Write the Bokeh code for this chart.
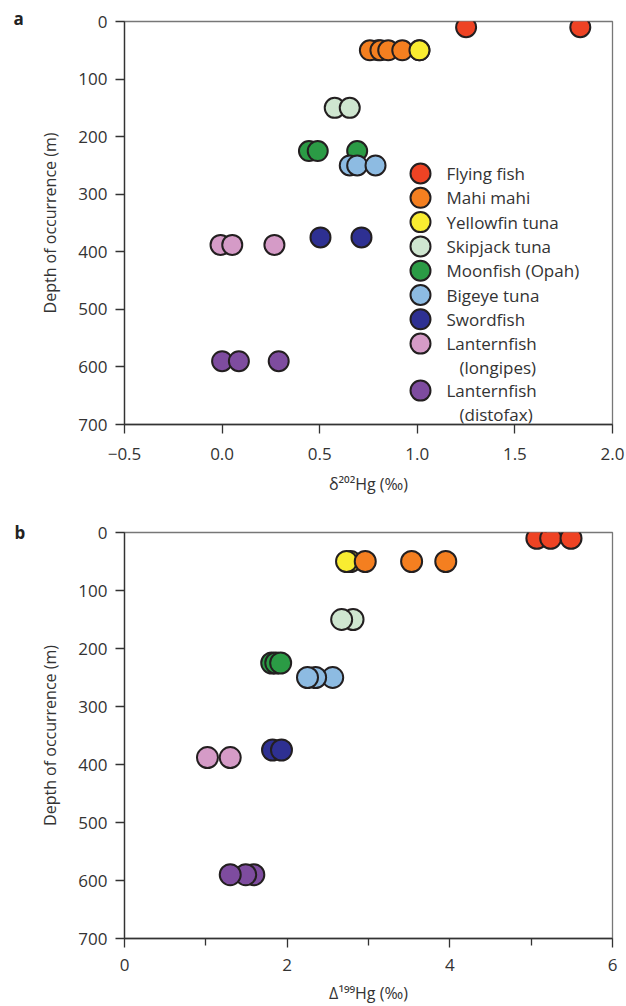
from bokeh.plotting import figure
from bokeh.layouts import column
from bokeh.models import Range1d, FixedTicker, CustomJSTickFormatter
from bokeh.core.properties import value
from bokeh.embed import file_html
from bokeh.resources import INLINE

# ---------------- data ----------------
species = ["Flying fish", "Mahi mahi", "Yellowfin tuna", "Skipjack tuna",
           "Moonfish (Opah)", "Bigeye tuna", "Swordfish",
           "Lanternfish\n(longipes)", "Lanternfish\n(distofax)"]
colors = ["#EE4324", "#F47F20", "#F9EC31", "#CFE6D0", "#2B9B45",
          "#8DBBE2", "#2E3092", "#D59BC7", "#7E4C9F"]
depths = [10, 50, 50, 150, 225, 250, 375, 388, 590]

# panel a: delta 202Hg (per mil)
flying_a = [1.25, 1.835]
mahi_a = [0.757, 0.811, 0.851, 0.923]
yellowfin_a = [0.80, 1.011]
skipjack_a = [0.577, 0.654]
moonfish_a = [0.445, 0.49, 0.692]
bigeye_a = [0.654, 0.692, 0.786]
swordfish_a = [0.504, 0.714]
longipes_a = [-0.008, 0.052, 0.268]
distofax_a = [0.0, 0.086, 0.29]

# panel b: Delta 199Hg (per mil)
flying_b = [5.07, 5.24, 5.49]
mahi_b = [2.96, 3.53, 3.95]
yellowfin_b = [2.78, 2.73]
skipjack_b = [2.81, 2.67]
moonfish_b = [1.81, 1.86, 1.92]
bigeye_b = [2.56, 2.35, 2.25]
swordfish_b = [1.82, 1.93]
longipes_b = [1.02, 1.30]
distofax_b = [1.59, 1.49, 1.30]

series_a = [flying_a, mahi_a, yellowfin_a, skipjack_a, moonfish_a,
            bigeye_a, swordfish_a, longipes_a, distofax_a]
series_b = [flying_b, mahi_b, yellowfin_b, skipjack_b, moonfish_b,
            bigeye_b, swordfish_b, longipes_b, distofax_b]

xticks_a = [-0.5, 0.0, 0.5, 1.0, 1.5, 2.0]
xticks_b = [0, 2, 4, 6]
xminor_b = [1, 3, 5]
yticks = [0, 100, 200, 300, 400, 500, 600, 700]

FONT = "Open Sans"
TXT = "#333333"
EDGE = "#231F20"
MSIZE = 20

# frame geometry of panel a (pixels), used to place the legend
A_LEFT, A_TOP, A_W, A_H = 124, 21, 488, 403
AX0, AX1, AY0, AY1 = -0.5, 2.0, 0, 700


def ax_x(px):
    return AX0 + (px - A_LEFT) * (AX1 - AX0) / A_W


def ax_y(py):
    return AY0 + (py - A_TOP) * (AY1 - AY0) / A_H


def style(p, xlabel, panel_letter, left):
    for ax in (p.xaxis, p.yaxis):
        ax.axis_line_color = "#333333"
        ax.axis_line_width = 1.3
        ax.major_tick_line_color = "#333333"
        ax.major_tick_line_width = 1.3
        ax.major_tick_out = 9
        ax.major_tick_in = 0
        ax.major_label_text_font = FONT
        ax.major_label_text_font_size = "17px"
        ax.major_label_text_color = TXT
        ax.axis_label_text_font = FONT
        ax.axis_label_text_font_size = "16px"
        ax.axis_label_text_color = TXT
        ax.axis_label_text_font_style = "normal"
    p.yaxis.axis_label = "Depth of occurrence (m)"
    p.yaxis.ticker = FixedTicker(ticks=yticks)
    p.yaxis.minor_tick_line_color = None
    p.yaxis.major_label_standoff = 8
    p.yaxis.axis_label_standoff = 14
    p.xaxis.axis_label = xlabel
    p.grid.visible = False
    p.outline_line_color = "#777777"
    p.outline_line_width = 1.3
    p.background_fill_color = "white"
    p.border_fill_color = "white"
    # panel letter
    p.title.text = panel_letter
    p.title.align = "left"
    p.title.offset = 13 - left
    p.title.text_font = FONT
    p.title.text_font_style = "bold"
    p.title.text_font_size = "17px"
    p.title.text_color = "#222222"


# ---------------- panel a ----------------
pa = figure(width=626, height=500, output_backend="svg", toolbar_location=None,
            x_range=Range1d(AX0, AX1), y_range=Range1d(AY1, AY0),
            min_border_left=A_LEFT, min_border_right=626 - A_LEFT - A_W,
            min_border_top=A_TOP, min_border_bottom=500 - A_TOP - A_H)
style(pa, "\u03b4\u00b2\u2070\u00b2Hg (\u2030)", "a", A_LEFT)
pa.title.standoff = -16
pa.xaxis.ticker = FixedTicker(ticks=xticks_a)
pa.xaxis.minor_tick_line_color = None
pa.xaxis.major_label_standoff = 14
pa.xaxis.axis_label_standoff = 10
pa.xaxis.formatter = CustomJSTickFormatter(
    code="return tick < 0 ? '\u2212' + Math.abs(tick).toFixed(1) : tick.toFixed(1);")

draw_order = [0, 2, 1, 3, 4, 5, 6, 7, 8]
for i in draw_order:
    xs = series_a[i]
    pa.scatter(x=xs, y=[depths[i]] * len(xs), size=MSIZE, marker="circle",
               fill_color=colors[i], line_color=EDGE, line_width=2)
# the second yellowfin point sits on top of the mahi mahi cluster
pa.scatter(x=yellowfin_a[1:], y=[depths[2]], size=MSIZE, marker="circle",
           fill_color=colors[2], line_color=EDGE, line_width=2)

# legend (drawn by hand so the circles keep their full size)
row_y = 173.0
for i, name in enumerate(species):
    lines = name.split("\n")
    pa.scatter(x=[ax_x(420)], y=[ax_y(row_y)], size=MSIZE, marker="circle",
               fill_color=colors[i], line_color=EDGE, line_width=2)
    for k, line in enumerate(lines):
        pa.text(x=[ax_x(446 if k == 0 else 459)], y=[ax_y(row_y + 23.5 * k)],
                text=[line], text_font=value(FONT), text_font_size="17px",
                text_color=TXT, text_baseline="middle", text_align="left")
    row_y += 24.3 if len(lines) == 1 else 47.0

# ---------------- panel b ----------------
B_LEFT, B_TOP, B_W, B_H = 123, 32, 490, 411
BX0, BX1 = 0, 6
pb = figure(width=626, height=506, output_backend="svg", toolbar_location=None,
            x_range=Range1d(BX0, BX1), y_range=Range1d(AY1, AY0),
            min_border_left=B_LEFT, min_border_right=626 - B_LEFT - B_W,
            min_border_top=B_TOP, min_border_bottom=506 - B_TOP - B_H)
style(pb, "\u0394\u00b9\u2079\u2079Hg (\u2030)", "b", B_LEFT)
pb.title.standoff = -23
pb.xaxis.ticker = FixedTicker(ticks=xticks_b, minor_ticks=xminor_b)
pb.xaxis.minor_tick_line_color = "#333333"
pb.xaxis.minor_tick_line_width = 1.3
pb.xaxis.minor_tick_out = 7
pb.xaxis.minor_tick_in = 0
pb.xaxis.major_label_standoff = 11
pb.xaxis.axis_label_standoff = 8

for i in draw_order:
    xs = series_b[i]
    pb.scatter(x=xs, y=[depths[i]] * len(xs), size=MSIZE + 1, marker="circle",
               fill_color=colors[i], line_color=EDGE, line_width=2)

layout = column(pa, pb, spacing=0)
open("out.html", "w").write(file_html(layout, INLINE))
